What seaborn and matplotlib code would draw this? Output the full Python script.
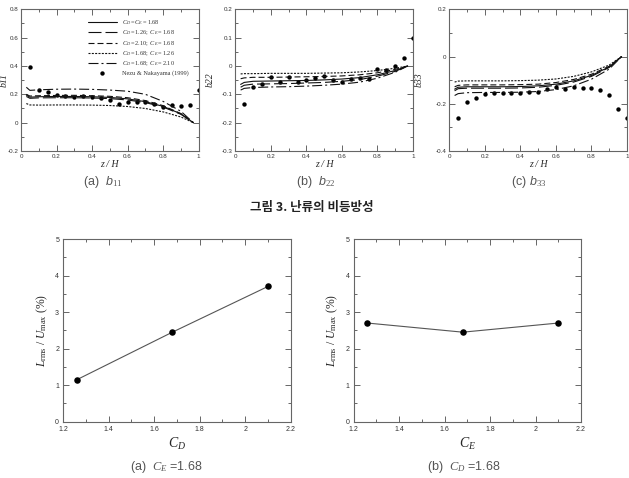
import numpy as np
import seaborn as sns
import matplotlib.pyplot as plt
from matplotlib.ticker import MultipleLocator, FuncFormatter

# ---- data -------------------------------------------------------------
z_nezu = [0.05, 0.10, 0.15, 0.20, 0.25, 0.30, 0.35, 0.40, 0.45, 0.50,
          0.55, 0.60, 0.65, 0.70, 0.75, 0.80, 0.85, 0.90, 0.95, 1.00]
b11_nezu = [0.390, 0.233, 0.216, 0.193, 0.190, 0.180, 0.188, 0.180, 0.176, 0.160,
            0.134, 0.143, 0.143, 0.146, 0.130, 0.108, 0.125, 0.120, 0.122, 0.230]
b22_nezu = [-0.135, -0.074, -0.065, -0.039, -0.056, -0.039, -0.055, -0.051, -0.042, -0.035,
            -0.048, -0.056, -0.047, -0.044, -0.045, -0.009, -0.015, 0.001, 0.029, 0.098]
b33_nezu = [-0.260, -0.191, -0.176, -0.160, -0.156, -0.153, -0.156, -0.156, -0.150, -0.150,
            -0.137, -0.130, -0.137, -0.130, -0.132, -0.135, -0.143, -0.164, -0.222, -0.260]

z_model = [0.03, 0.05, 0.1, 0.2, 0.3, 0.4, 0.5, 0.6, 0.7, 0.8, 0.9, 0.97]

case_labels = [r"$C_D = C_E = 1.68$",
               r"$C_D = 1.26;\ C_E = 1.68$",
               r"$C_D = 2.10;\ C_E = 1.68$",
               r"$C_D = 1.68;\ C_E = 1.26$",
               r"$C_D = 1.68;\ C_E = 2.10$"]

b11_model = [
    [0.195, 0.180, 0.183, 0.185, 0.185, 0.183, 0.178, 0.168, 0.148, 0.115, 0.062, 0],
    [0.185, 0.172, 0.175, 0.176, 0.176, 0.174, 0.170, 0.160, 0.142, 0.110, 0.059, 0],
    [0.200, 0.188, 0.190, 0.192, 0.193, 0.190, 0.186, 0.176, 0.156, 0.120, 0.064, 0],
    [0.135, 0.125, 0.124, 0.125, 0.125, 0.124, 0.121, 0.114, 0.100, 0.076, 0.040, 0],
    [0.250, 0.228, 0.232, 0.236, 0.237, 0.235, 0.230, 0.222, 0.200, 0.150, 0.080, 0],
]
b22_model = [
    [-0.065, -0.058, -0.054, -0.053, -0.052, -0.051, -0.049, -0.046, -0.041, -0.031, -0.016, 0],
    [-0.075, -0.068, -0.064, -0.063, -0.062, -0.060, -0.058, -0.054, -0.048, -0.036, -0.019, 0],
    [-0.045, -0.042, -0.040, -0.040, -0.039, -0.038, -0.037, -0.035, -0.031, -0.024, -0.012, 0],
    [-0.028, -0.027, -0.027, -0.026, -0.026, -0.026, -0.025, -0.024, -0.021, -0.016, -0.008, 0],
    [-0.085, -0.079, -0.076, -0.074, -0.073, -0.071, -0.068, -0.064, -0.057, -0.043, -0.022, 0],
]
b33_model = [
    [-0.138, -0.130, -0.128, -0.128, -0.128, -0.127, -0.124, -0.117, -0.103, -0.080, -0.044, 0],
    [-0.145, -0.136, -0.134, -0.134, -0.134, -0.133, -0.130, -0.122, -0.108, -0.084, -0.046, 0],
    [-0.128, -0.122, -0.120, -0.120, -0.120, -0.119, -0.117, -0.110, -0.097, -0.075, -0.041, 0],
    [-0.108, -0.104, -0.103, -0.103, -0.103, -0.102, -0.100, -0.095, -0.084, -0.065, -0.036, 0],
    [-0.165, -0.157, -0.153, -0.152, -0.152, -0.151, -0.148, -0.140, -0.124, -0.096, -0.053, 0],
]

c_values = [1.26, 1.68, 2.10]
lrms_vs_cd = [1.15, 2.45, 3.70]
lrms_vs_ce = [2.70, 2.45, 2.70]

# ---- style ------------------------------------------------------------
sns.set_style("ticks")
plt.rcParams["font.family"] = ["Liberation Sans", "Noto Sans CJK KR", "DejaVu Sans"]
plt.rcParams["mathtext.fontset"] = "custom"
plt.rcParams["mathtext.rm"] = "Liberation Serif"
plt.rcParams["mathtext.it"] = "Liberation Serif:italic"
plt.rcParams["mathtext.bf"] = "Liberation Serif:bold"
plt.rcParams["mathtext.sf"] = "Liberation Sans:italic"

AX_COL = "#666666"
TXT_COL = "#333333"
line_styles = ["-", (0, (11.7, 3.6)), (0, (5.4, 2.7)), (0, (1.8, 1.2)),
               (0, (9, 2.7, 1.8, 2.7))]

fmt = FuncFormatter(lambda v, p: "%g" % round(v, 3))


def style_axes(ax, xmaj, xmin, ymaj, ymin, size, pad=2):
    ax.xaxis.set_major_locator(MultipleLocator(xmaj))
    ax.xaxis.set_minor_locator(MultipleLocator(xmin))
    ax.yaxis.set_major_locator(MultipleLocator(ymaj))
    ax.yaxis.set_minor_locator(MultipleLocator(ymin))
    ax.xaxis.set_major_formatter(fmt)
    ax.yaxis.set_major_formatter(fmt)
    ax.tick_params(which="both", direction="in", top=True, right=True,
                   colors=AX_COL, labelcolor=TXT_COL, labelsize=size, width=0.7, pad=pad)
    ax.tick_params(which="major", length=4)
    ax.tick_params(which="minor", length=2)
    for sp in ax.spines.values():
        sp.set_color(AX_COL)
        sp.set_linewidth(0.8)


fig = plt.figure(figsize=(6.29, 4.78), dpi=100)

# ---- top row: anisotropy profiles --------------------------------------
top_specs = [
    (0.0334, b11_nezu, b11_model, "b11", (-0.2, 0.8), 0.2, 0.1, -0.07),
    (0.3741, b22_nezu, b22_model, "b22", (-0.3, 0.2), 0.1, 0.05, -0.114),
    (0.7143, b33_nezu, b33_model, "b33", (-0.4, 0.2), 0.2, 0.1, -0.145),
]
top_axes = []
for i, (left, nezu, model, ylab, ylim, ymaj, ymin, ylx) in enumerate(top_specs):
    ax = fig.add_axes([left, 0.6841, 0.2825, 0.2964])
    for k in range(5):
        sns.lineplot(x=z_model, y=model[k], ax=ax, color="#111111", lw=0.8,
                     linestyle=line_styles[k],
                     label=case_labels[k] if i == 0 else None)
    sns.scatterplot(x=z_nezu, y=nezu, ax=ax, color="black", s=10, linewidth=0,
                    label="Nezu & Nakayama (1999)" if i == 0 else None)
    ax.set_xlim(0, 1)
    ax.set_ylim(*ylim)
    style_axes(ax, 0.2, 0.1, ymaj, ymin, 4.5)
    ax.set_xlabel("z / H", family="Liberation Serif", style="italic", fontsize=7)
    ax.set_ylabel(ylab, family="Liberation Serif", style="italic", fontsize=7)
    ax.xaxis.set_label_coords(0.5, -0.065)
    ax.yaxis.set_label_coords(ylx, 0.5)
    top_axes.append(ax)

leg = top_axes[0].legend(loc="upper left", bbox_to_anchor=(0.36, 0.96),
                         frameon=False, handlelength=4.6,
                         labelspacing=0.25, handletextpad=0.8, borderpad=0,
                         prop={"family": "Liberation Serif", "size": 4.5})
for t in leg.get_texts():
    t.set_color(TXT_COL)

cap_col = "#555555"
fig.text(0.163, 0.62, r"(a)  $\mathsf{b}_{11}$", fontsize=9, color=cap_col, ha="center", va="center")
fig.text(0.502, 0.62, r"(b)  $\mathsf{b}_{22}$", fontsize=9, color=cap_col, ha="center", va="center")
fig.text(0.841, 0.62, r"(c) $\mathsf{b}_{33}$", fontsize=9, color=cap_col, ha="center", va="center")
fig.text(0.496, 0.565, "그림 3. 난류의 비등방성", fontsize=9, fontweight="bold",
         family=["Noto Sans CJK KR", "DejaVu Sans"], color="#222222", ha="center", va="center")

# ---- bottom row: Lrms / Umax --------------------------------------------
bot_specs = [
    (0.1006, lrms_vs_cd, r"$C_D$", r"(a)  $C_E$ =1.68", 0.264),
    (0.5623, lrms_vs_ce, r"$C_E$", r"(b)  $C_D$ =1.68", 0.738),
]
for left, yvals, xlab, cap, capx in bot_specs:
    ax = fig.add_axes([left, 0.1178, 0.3614, 0.3822])
    sns.lineplot(x=c_values, y=yvals, ax=ax, color="#555555", lw=0.8)
    sns.scatterplot(x=c_values, y=yvals, ax=ax, color="black", s=22, linewidth=0, zorder=3)
    ax.set_xlim(1.2, 2.2)
    ax.set_ylim(0, 5)
    style_axes(ax, 0.2, 0.1, 1, 0.5, 5, pad=3)
    ax.set_xlabel(xlab, fontsize=10)
    ax.set_ylabel(r"$L_{\mathrm{rms}}\ /\ U_{\mathrm{max}}$ (%)", fontsize=8.5,
                  family="Liberation Serif")
    ax.xaxis.set_label_coords(0.5, -0.078)
    ax.yaxis.set_label_coords(-0.06, 0.5)
    fig.text(capx, 0.022, cap, fontsize=9, color=cap_col, ha="center", va="center")

fig.savefig("out.png", dpi=100)
